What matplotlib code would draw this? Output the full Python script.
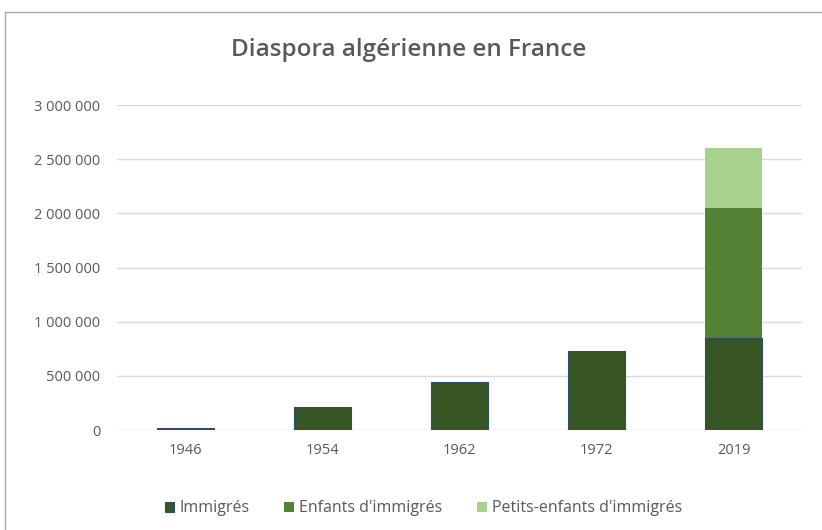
import matplotlib.pyplot as plt
from matplotlib.lines import Line2D
from matplotlib.patches import Patch
import numpy as np

years = ["1946", "1954", "1962", "1972", "2019"]
immigres = [22000, 211000, 442000, 730000, 846000]
enfants = [0, 0, 0, 0, 1200000]
petits_enfants = [0, 0, 0, 0, 560000]
yticks = [0, 500000, 1000000, 1500000, 2000000, 2500000, 3000000]

c_imm = "#375623"
c_enf = "#548235"
c_pet = "#a9d18e"
grey = "#595959"

plt.rcParams["font.family"] = ["Open Sans", "DejaVu Sans"]

fig = plt.figure(figsize=(8.22, 5.30), dpi=100)
ax = fig.add_axes([117 / 822, 100 / 530, 685 / 822, 325 / 530])

x = np.arange(len(years))
w = 0.41
ax.bar(x, immigres, w, color=c_imm, edgecolor="#2f4a6a", linewidth=0.8, zorder=3, label="Immigrés")
ax.bar(x, enfants, w, bottom=immigres, color=c_enf, zorder=2, label="Enfants d'immigrés")
bottom2 = [a + b for a, b in zip(immigres, enfants)]
ax.bar(x, petits_enfants, w, bottom=bottom2, color=c_pet, zorder=2, label="Petits-enfants d'immigrés")

ax.set_ylim(0, 3000000)
ax.set_xlim(-0.5, len(years) - 0.5)
ax.set_yticks(yticks)
ax.set_yticklabels([f"{v:,}".replace(",", " ") for v in yticks])
ax.set_xticks(x)
ax.set_xticklabels(years)
ax.tick_params(length=0, labelsize=10.5, labelcolor=grey)
ax.tick_params(axis="y", pad=12)
ax.tick_params(axis="x", pad=9)
ax.grid(axis="y", color="#d9d9d9", linewidth=1, zorder=0)
for s in ax.spines.values():
    s.set_visible(False)

fig.text(0.497, 0.905, "Diaspora algérienne en France", ha="center", va="center",
         fontsize=17.5, fontweight="semibold", color=grey)

handles = [
    Patch(facecolor=c_imm, edgecolor="#2f4a6a", linewidth=0.8),
    Patch(facecolor=c_enf),
    Patch(facecolor=c_pet),
]
fig.legend(handles, ["Immigrés", "Enfants d'immigrés", "Petits-enfants d'immigrés"],
           loc="center", bbox_to_anchor=(0.515, 0.041), ncol=3, frameon=False,
           fontsize=11.5, labelcolor=grey, handlelength=0.6, handleheight=0.6,
           handletextpad=0.3, columnspacing=2.2)

# chart frame (top and left edges)
fig.add_artist(Line2D([5 / 822, 1], [1 - 12 / 530, 1 - 12 / 530], color="#a6a6a6", linewidth=1))
fig.add_artist(Line2D([5 / 822, 5 / 822], [0, 1 - 12 / 530], color="#a6a6a6", linewidth=1))

fig.savefig("out.png", dpi=100)
